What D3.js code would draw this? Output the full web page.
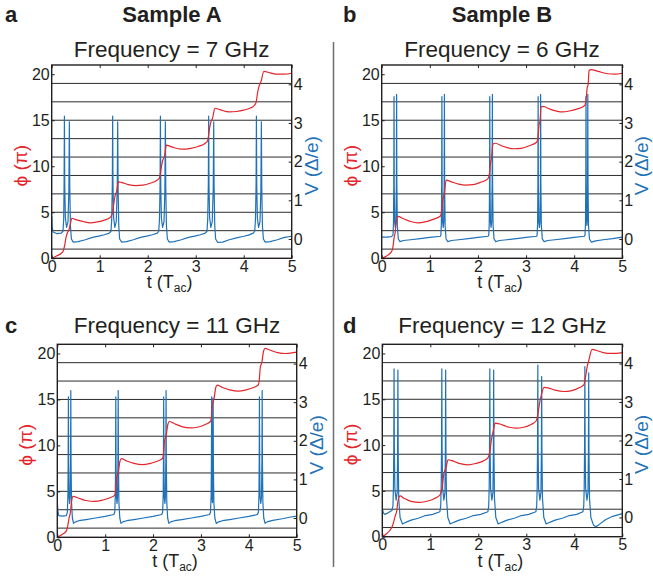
<!DOCTYPE html>
<html>
<head>
<meta charset="utf-8">
<script src="https://cdn.jsdelivr.net/npm/d3@7"></script>
<style>
  html, body { margin: 0; padding: 0; background: #fff; }
  svg { display: block; font-family: "Liberation Sans", Arial, Helvetica, sans-serif; }
</style>
</head>
<body>
<svg id="chart" width="653" height="583"></svg>
<script>
// ---------------- DATA ----------------
const panelLetters = ["a", "b", "c", "d"];
const sampleTitles = ["Sample A", "Sample B"];
const freqTitles = ["Frequency = 7 GHz", "Frequency = 6 GHz", "Frequency = 11 GHz", "Frequency = 12 GHz"];
const tTicks = [0, 1, 2, 3, 4, 5];
const phiTicks = [0, 5, 10, 15, 20];
const vTicks = [0, 1, 2, 3, 4];
const gridPhi = [1, 3, 5, 7, 9, 11, 13, 15, 17, 19];
const tDomain = [0, 5];
const phiDomain = [0, 21];
const vDomain = [-0.5, 4.5];

// phase phi (units of pi) vs t (units of T_ac)
const phiA = [[0,0],[0.1,0.25],[0.2,0.55],[0.24,0.8],[0.27,1.4],[0.3,2.3],[0.33,2.8],[0.36,3.1],[0.39,3.8],[0.42,4.35],[0.5,4.2],[0.65,4.0],[0.8,3.85],[0.95,3.95],[1.1,4.15],[1.21,4.4],[1.26,4.8],[1.29,5.8],[1.32,6.8],[1.35,7.2],[1.39,8.3],[1.45,8.25],[1.6,8.0],[1.75,7.9],[1.9,7.95],[2.05,8.15],[2.2,8.5],[2.25,8.8],[2.28,9.8],[2.31,10.6],[2.35,11.1],[2.39,12.3],[2.5,12.1],[2.7,11.85],[2.9,11.95],[3.05,12.15],[3.2,12.5],[3.25,12.8],[3.28,13.8],[3.31,14.7],[3.35,15.2],[3.4,16.3],[3.5,16.15],[3.7,15.9],[3.85,15.95],[4.0,16.1],[4.15,16.35],[4.22,16.6],[4.26,17.0],[4.29,18.0],[4.32,18.7],[4.36,19.2],[4.42,20.3],[4.55,20.15],[4.7,20.0],[4.85,20.0],[5.0,20.1]];
const phiB = [[0,0],[0.1,0.25],[0.2,0.7],[0.23,1.1],[0.26,2.3],[0.28,2.8],[0.31,4.3],[0.34,4.55],[0.45,4.3],[0.6,4.0],[0.75,3.85],[0.9,3.95],[1.05,4.2],[1.22,4.6],[1.25,5.2],[1.27,6.3],[1.3,7.0],[1.34,8.5],[1.45,8.3],[1.6,8.05],[1.75,7.95],[1.9,8.0],[2.05,8.25],[2.2,8.6],[2.24,9.2],[2.26,10.3],[2.28,10.8],[2.31,12.4],[2.36,12.5],[2.5,12.2],[2.75,11.9],[2.9,11.95],[3.05,12.2],[3.22,12.6],[3.25,13.3],[3.27,14.5],[3.29,14.9],[3.31,16.4],[3.35,16.5],[3.5,16.2],[3.75,15.9],[3.9,16.0],[4.05,16.2],[4.22,16.6],[4.25,17.4],[4.27,18.5],[4.29,18.9],[4.31,20.4],[4.35,20.5],[4.5,20.3],[4.7,20.05],[4.85,20.0],[5.0,20.1]];
const phiC = [[0,0],[0.1,0.3],[0.19,0.7],[0.22,1.3],[0.25,2.2],[0.27,2.6],[0.3,4.0],[0.33,4.45],[0.45,4.25],[0.6,4.0],[0.78,3.9],[0.95,4.05],[1.1,4.3],[1.2,4.6],[1.22,5.2],[1.24,6.5],[1.27,7.0],[1.31,8.3],[1.34,8.55],[1.45,8.3],[1.6,8.05],[1.78,7.9],[1.95,8.05],[2.1,8.3],[2.2,8.6],[2.22,9.2],[2.24,10.5],[2.27,11.0],[2.31,12.3],[2.34,12.6],[2.45,12.35],[2.6,12.05],[2.78,11.9],[2.95,12.0],[3.1,12.3],[3.2,12.6],[3.22,13.2],[3.24,14.5],[3.27,15.0],[3.31,16.3],[3.34,16.55],[3.45,16.3],[3.6,16.05],[3.78,15.9],[3.95,16.05],[4.1,16.3],[4.2,16.6],[4.22,17.2],[4.24,18.5],[4.27,19.0],[4.31,20.3],[4.34,20.55],[4.45,20.35],[4.6,20.1],[4.78,20.0],[5.0,20.15]];
const phiD = [[0,0],[0.08,0.3],[0.16,0.7],[0.22,1.3],[0.265,2.2],[0.3,2.8],[0.33,4.0],[0.37,4.45],[0.45,4.2],[0.6,3.85],[0.78,3.75],[0.95,3.9],[1.1,4.2],[1.2,4.55],[1.24,5.2],[1.285,6.9],[1.33,7.6],[1.37,8.4],[1.45,8.3],[1.6,8.0],[1.78,7.85],[1.95,8.0],[2.1,8.25],[2.2,8.6],[2.24,9.3],[2.28,10.8],[2.31,11.5],[2.35,12.4],[2.45,12.3],[2.6,12.0],[2.78,11.85],[2.95,11.95],[3.1,12.25],[3.2,12.6],[3.24,13.3],[3.28,14.7],[3.31,15.4],[3.37,16.3],[3.45,16.25],[3.6,16.0],[3.78,15.85],[3.95,15.95],[4.1,16.25],[4.2,16.6],[4.23,17.3],[4.27,18.6],[4.3,19.2],[4.37,20.45],[4.45,20.35],[4.6,20.1],[4.78,20.0],[5.0,20.1]];

// voltage V (units of Delta/e) vs t (units of T_ac)
const voltA = [[0,0.6],[0.01,0.3],[0.03,0.18],[0.1,0.14],[0.2,0.15],[0.235,0.2],[0.25,0.5],[0.258,1.4],[0.265,3.18],[0.272,1.4],[0.285,0.55],[0.31,0.3],[0.34,0.45],[0.358,1.3],[0.368,3.03],[0.377,1.3],[0.39,0.35],[0.41,0.0],[0.45,-0.08],[0.55,-0.07],[0.7,-0.02],[0.85,0.04],[1.0,0.08],[1.1,0.11],[1.2,0.15],
  [1.235,0.2],[1.25,0.5],[1.263,1.4],[1.27,3.18],[1.277,1.4],[1.29,0.55],[1.315,0.3],[1.345,0.45],[1.365,1.3],[1.375,3.03],[1.384,1.3],[1.397,0.35],[1.415,0.0],[1.46,-0.08],[1.56,-0.07],[1.7,-0.02],[1.85,0.04],[2.0,0.08],[2.1,0.11],[2.2,0.15],
  [2.23,0.2],[2.245,0.5],[2.258,1.4],[2.265,3.18],[2.272,1.4],[2.285,0.55],[2.31,0.3],[2.34,0.45],[2.358,1.3],[2.368,3.03],[2.377,1.3],[2.39,0.35],[2.41,0.0],[2.45,-0.08],[2.55,-0.07],[2.7,-0.02],[2.85,0.04],[3.0,0.08],[3.1,0.11],[3.2,0.15],
  [3.235,0.2],[3.25,0.5],[3.263,1.4],[3.27,3.18],[3.277,1.4],[3.29,0.55],[3.315,0.3],[3.345,0.45],[3.365,1.3],[3.375,3.03],[3.384,1.3],[3.397,0.35],[3.415,0.0],[3.46,-0.09],[3.56,-0.08],[3.7,-0.02],[3.85,0.03],[4.0,0.07],[4.1,0.1],[4.2,0.15],
  [4.23,0.2],[4.245,0.5],[4.258,1.4],[4.265,3.18],[4.272,1.4],[4.285,0.55],[4.31,0.3],[4.34,0.45],[4.358,1.3],[4.368,3.03],[4.377,1.3],[4.39,0.35],[4.41,0.0],[4.45,-0.08],[4.55,-0.07],[4.7,-0.02],[4.85,0.04],[5.0,0.07]];
const voltB = [[0,0.05],[0.1,0.05],[0.2,0.06],[0.235,0.1],[0.245,0.4],[0.251,1.4],[0.256,3.68],[0.261,1.3],[0.27,0.45],[0.283,0.3],[0.296,0.45],[0.305,1.4],[0.31,3.74],[0.315,1.4],[0.325,0.35],[0.345,0.0],[0.38,-0.07],[0.45,-0.04],[0.6,-0.02],[0.8,0.01],[1.0,0.04],[1.22,0.07],
  [1.23,0.1],[1.24,0.4],[1.246,1.4],[1.251,3.68],[1.256,1.3],[1.265,0.45],[1.278,0.3],[1.29,0.45],[1.298,1.4],[1.303,3.74],[1.308,1.4],[1.318,0.35],[1.338,0.0],[1.375,-0.07],[1.45,-0.04],[1.6,-0.02],[1.8,0.01],[2.0,0.04],[2.21,0.07],
  [2.225,0.1],[2.235,0.4],[2.241,1.4],[2.246,3.68],[2.251,1.3],[2.26,0.45],[2.273,0.3],[2.286,0.45],[2.295,1.4],[2.3,3.74],[2.305,1.4],[2.315,0.35],[2.335,0.0],[2.37,-0.07],[2.45,-0.04],[2.6,-0.02],[2.8,0.01],[3.0,0.04],[3.22,0.07],
  [3.23,0.1],[3.24,0.4],[3.246,1.4],[3.251,3.68],[3.256,1.3],[3.265,0.45],[3.278,0.3],[3.29,0.45],[3.298,1.4],[3.303,3.74],[3.308,1.4],[3.318,0.35],[3.338,0.0],[3.375,-0.07],[3.45,-0.04],[3.6,-0.02],[3.8,0.01],[4.0,0.04],[4.21,0.07],
  [4.225,0.1],[4.235,0.4],[4.241,1.4],[4.246,3.68],[4.251,1.3],[4.257,0.5],[4.265,0.35],[4.272,0.5],[4.278,1.4],[4.283,3.74],[4.288,1.4],[4.298,0.35],[4.318,0.0],[4.355,-0.08],[4.45,-0.05],[4.6,-0.02],[4.8,0.01],[5.0,0.05]];
const voltC = [[0,0.45],[0.01,0.2],[0.03,0.06],[0.1,0.05],[0.19,0.06],[0.21,0.15],[0.222,0.6],[0.227,1.5],[0.232,3.14],[0.237,1.4],[0.245,0.55],[0.257,0.38],[0.268,0.55],[0.277,1.5],[0.282,3.3],[0.287,1.5],[0.297,0.4],[0.315,0.0],[0.34,-0.14],[0.38,-0.1],[0.45,-0.07],[0.6,-0.04],[0.8,0.0],[1.0,0.04],[1.18,0.09],
  [1.2,0.15],[1.212,0.6],[1.217,1.5],[1.222,3.14],[1.227,1.4],[1.235,0.55],[1.247,0.38],[1.258,0.55],[1.267,1.5],[1.272,3.3],[1.277,1.5],[1.287,0.4],[1.305,0.0],[1.33,-0.14],[1.37,-0.1],[1.45,-0.07],[1.6,-0.04],[1.8,0.0],[2.0,0.04],[2.18,0.09],
  [2.2,0.15],[2.212,0.6],[2.217,1.5],[2.222,3.14],[2.227,1.4],[2.235,0.55],[2.247,0.38],[2.258,0.55],[2.267,1.5],[2.272,3.3],[2.277,1.5],[2.287,0.4],[2.305,0.0],[2.33,-0.14],[2.37,-0.1],[2.45,-0.07],[2.6,-0.04],[2.8,0.0],[3.0,0.04],[3.18,0.09],
  [3.2,0.15],[3.213,0.6],[3.219,1.5],[3.225,3.14],[3.23,1.4],[3.235,0.5],[3.24,0.4],[3.245,0.5],[3.25,1.4],[3.255,3.1],[3.26,1.4],[3.27,0.4],[3.29,0.0],[3.32,-0.14],[3.37,-0.1],[3.45,-0.07],[3.6,-0.04],[3.8,0.0],[4.0,0.04],[4.18,0.09],
  [4.2,0.15],[4.212,0.6],[4.217,1.5],[4.222,3.14],[4.227,1.4],[4.235,0.55],[4.25,0.38],[4.265,0.55],[4.274,1.5],[4.279,3.3],[4.284,1.5],[4.294,0.4],[4.312,0.0],[4.34,-0.14],[4.38,-0.1],[4.5,-0.06],[4.7,-0.02],[4.85,0.02],[5.0,0.05]];
const voltD = [[0,0.25],[0.02,0.12],[0.05,0.08],[0.12,0.12],[0.2,0.18],[0.222,0.3],[0.232,0.8],[0.239,1.8],[0.245,3.86],[0.251,1.8],[0.262,0.75],[0.288,0.45],[0.31,0.65],[0.319,1.7],[0.325,3.83],[0.331,1.7],[0.342,0.5],[0.37,0.0],[0.42,-0.17],[0.5,-0.12],[0.6,-0.07],[0.75,-0.02],[0.9,0.05],[1.05,0.08],[1.2,0.15],
  [1.217,0.3],[1.227,0.8],[1.234,1.8],[1.24,3.86],[1.246,1.8],[1.257,0.75],[1.283,0.45],[1.305,0.65],[1.314,1.7],[1.32,3.83],[1.326,1.7],[1.337,0.5],[1.365,0.0],[1.415,-0.17],[1.5,-0.12],[1.6,-0.07],[1.75,-0.02],[1.9,0.05],[2.05,0.08],[2.2,0.15],
  [2.217,0.3],[2.227,0.8],[2.234,1.8],[2.24,3.86],[2.246,1.8],[2.257,0.75],[2.283,0.45],[2.305,0.65],[2.314,1.7],[2.32,3.83],[2.326,1.7],[2.337,0.5],[2.365,0.0],[2.415,-0.17],[2.5,-0.12],[2.6,-0.07],[2.75,-0.02],[2.9,0.05],[3.05,0.08],[3.2,0.15],
  [3.217,0.3],[3.227,0.8],[3.234,1.8],[3.24,3.96],[3.246,1.8],[3.257,0.75],[3.283,0.45],[3.305,0.65],[3.314,1.7],[3.32,3.66],[3.326,1.7],[3.337,0.5],[3.365,0.0],[3.415,-0.17],[3.5,-0.12],[3.6,-0.07],[3.75,-0.02],[3.9,0.05],[4.05,0.08],[4.18,0.15],
  [4.197,0.3],[4.207,0.8],[4.214,1.8],[4.22,3.92],[4.226,1.8],[4.237,0.75],[4.263,0.45],[4.285,0.65],[4.294,1.7],[4.3,3.76],[4.306,1.7],[4.317,0.5],[4.345,0.0],[4.4,-0.2],[4.45,-0.24],[4.52,-0.18],[4.65,-0.06],[4.8,0.03],[5.0,0.1]];

// ---------------- LAYOUT ----------------
const phiSeries = [phiA, phiB, phiC, phiD];
const voltSeries = [voltA, voltB, voltC, voltD];
const boxes = [
  {left: 51.7, right: 291.7, top: 65, bottom: 258.3, titleY: 56.5, letterX: 5},
  {left: 381.7, right: 622.3, top: 65, bottom: 258.3, titleY: 56.5, letterX: 343},
  {left: 57.3, right: 296.7, top: 344.3, bottom: 537.3, titleY: 333, letterX: 5},
  {left: 382.3, right: 622.3, top: 344.3, bottom: 536.7, titleY: 333, letterX: 343}
];
const RED = "#e3262b", BLUE = "#1f72b8", FONT = "'Liberation Sans', Arial, Helvetica, sans-serif";

const svg = d3.select("#chart");

// column headers
svg.append("text").attr("x", 172).attr("y", 22).attr("text-anchor", "middle")
  .attr("font-size", 22).attr("font-weight", "bold").attr("fill", "#231f20").text(sampleTitles[0]);
svg.append("text").attr("x", 502).attr("y", 22).attr("text-anchor", "middle")
  .attr("font-size", 22).attr("font-weight", "bold").attr("fill", "#231f20").text(sampleTitles[1]);

// separator
svg.append("line").attr("x1", 333.5).attr("x2", 333.5).attr("y1", 42).attr("y2", 567)
  .attr("stroke", "#6d6e71").attr("stroke-width", 1.5);

boxes.forEach((b, i) => {
  const g = svg.append("g");
  const x = d3.scaleLinear(tDomain, [b.left, b.right]);
  const yP = d3.scaleLinear(phiDomain, [b.bottom, b.top]);
  const yV = d3.scaleLinear(vDomain, [b.bottom, b.top]);

  // letter
  g.append("text").attr("x", b.letterX).attr("y", i < 2 ? 22 : b.titleY)
    .attr("font-size", 22).attr("font-weight", "bold").attr("fill", "#231f20").text(panelLetters[i]);
  // title
  g.append("text").attr("x", (b.left + b.right) / 2).attr("y", b.titleY).attr("text-anchor", "middle")
    .attr("font-size", 22.5).attr("fill", "#231f20").text(freqTitles[i]);

  // grid lines
  g.selectAll("line.grid").data(gridPhi).join("line").attr("class", "grid")
    .attr("x1", b.left).attr("x2", b.right)
    .attr("y1", d => yP(d)).attr("y2", d => yP(d))
    .attr("stroke", "#2b2b2b").attr("stroke-width", 1);

  // clip
  const cid = "clip" + i;
  svg.append("clipPath").attr("id", cid).append("rect")
    .attr("x", b.left).attr("y", b.top).attr("width", b.right - b.left).attr("height", b.bottom - b.top);

  const lineV = d3.line().x(d => x(d[0])).y(d => yV(d[1]));
  const lineP = d3.line().x(d => x(d[0])).y(d => yP(d[1])).curve(d3.curveMonotoneX);

  g.append("path").datum(voltSeries[i]).attr("d", lineV).attr("fill", "none")
    .attr("stroke", BLUE).attr("stroke-width", 1.2).attr("stroke-linejoin", "round").attr("clip-path", `url(#${cid})`);
  g.append("path").datum(phiSeries[i]).attr("d", lineP).attr("fill", "none")
    .attr("stroke", RED).attr("stroke-width", 1.2).attr("clip-path", `url(#${cid})`);

  // frame
  g.append("rect").attr("x", b.left).attr("y", b.top).attr("width", b.right - b.left).attr("height", b.bottom - b.top)
    .attr("fill", "none").attr("stroke", "#231f20").attr("stroke-width", 1.4);

  // axes
  const styleAxis = sel => {
    sel.select(".domain").remove();
    sel.selectAll("line").attr("stroke", "#231f20");
    sel.selectAll("text").attr("font-family", FONT).attr("font-size", 16).attr("fill", "#231f20");
  };
  g.append("g").attr("transform", `translate(0,${b.bottom})`)
    .call(d3.axisBottom(x).tickValues(tTicks).tickFormat(d3.format("d")).tickSizeInner(-3).tickSizeOuter(0).tickPadding(2))
    .call(styleAxis);
  g.append("g").attr("transform", `translate(0,${b.top})`)
    .call(d3.axisTop(x).tickValues(tTicks).tickFormat("").tickSizeInner(-3).tickSizeOuter(0))
    .call(styleAxis);
  g.append("g").attr("transform", `translate(${b.left},0)`)
    .call(d3.axisLeft(yP).tickValues(phiTicks).tickFormat(d3.format("d")).tickSizeInner(-3).tickSizeOuter(0).tickPadding(2))
    .call(styleAxis);
  g.append("g").attr("transform", `translate(${b.right},0)`)
    .call(d3.axisRight(yV).tickValues(vTicks).tickFormat(d3.format("d")).tickSizeInner(-3).tickSizeOuter(0).tickPadding(2))
    .call(styleAxis);

  // axis titles
  const xt = g.append("text").attr("x", (b.left + b.right) / 2 - 2).attr("y", b.bottom + 30)
    .attr("text-anchor", "middle").attr("font-size", 18).attr("fill", "#231f20");
  xt.append("tspan").text("t (T");
  xt.append("tspan").attr("font-size", 12).attr("dy", 4).text("ac");
  xt.append("tspan").attr("dy", -4).text(")");

  const cy = (b.top + b.bottom) / 2 + 4;
  g.append("text").attr("transform", `translate(${b.left - 25},${cy}) rotate(-90)`)
    .attr("text-anchor", "middle").attr("font-size", 19).attr("fill", RED).text("ϕ (π)");
  g.append("text").attr("transform", `translate(${b.right + 26},${cy}) rotate(-90)`)
    .attr("text-anchor", "middle").attr("font-size", 19).attr("fill", BLUE).text("V (Δ/e)");
});
</script>
</body>
</html>
